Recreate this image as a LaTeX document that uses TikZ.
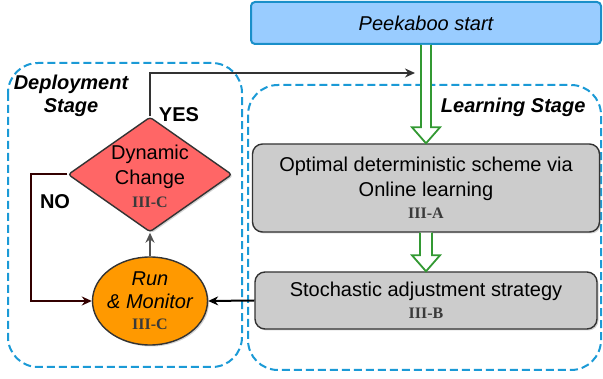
\documentclass[tikz,border=0pt]{standalone}
\usepackage{fontspec}
\setmainfont{Liberation Sans}
\newfontfamily\secfont{Liberation Serif}
\usetikzlibrary{arrows.meta,shapes.geometric,shadows,calc}
\definecolor{stageblue}{HTML}{1B9AD6}
\definecolor{startfill}{HTML}{99CCFF}
\definecolor{startdraw}{HTML}{1A8FC9}
\definecolor{diafill}{HTML}{FF6666}
\definecolor{ellfill}{HTML}{FF9900}
\definecolor{boxfill}{HTML}{CCCCCC}
\definecolor{darkline}{HTML}{333333}
\definecolor{noline}{HTML}{330000}
\definecolor{arrgreen}{HTML}{339933}
\definecolor{secgray}{HTML}{3A3A3A}
\begin{document}
\begin{tikzpicture}[x=1pt,y=-1pt,
  every node/.style={font=\fontsize{20}{25}\selectfont},
  stagebox/.style={draw=stageblue,line width=2pt,dash pattern=on 8pt off 4pt,rounded corners=30pt},
  stagelabel/.style={font=\fontsize{20}{23}\selectfont\bfseries\itshape,align=center},
  graybox/.style={draw=darkline,fill=boxfill,line width=1.4pt,rounded corners=10pt,align=center,
    drop shadow={shadow xshift=1.5pt,shadow yshift=-1.5pt,opacity=0.35}},
  hollow/.style={draw=arrgreen,fill=white,line width=1.8pt,line join=miter},
  conn/.style={line width=2pt,-{Stealth[length=10pt,width=9pt]}},
  yn/.style={font=\fontsize{20}{24}\selectfont\bfseries}]
\useasboundingbox (0,0) rectangle (603,379);
% stage frames
\draw[stagebox] (8,63) rectangle (242,367);
\node[stagelabel] (deplab) at (71,96) {Deployment\\Stage};
\draw[stagebox] (248,85) rectangle (601,370);
\node[stagelabel,anchor=east] (learnlab) at (589,107) {Learning Stage};
% start box
\node[draw=startdraw,fill=startfill,line width=2pt,rounded corners=4pt,minimum width=350pt,minimum height=42pt,font=\fontsize{20}{24}\selectfont\itshape] (start) at (426,23) {Peekaboo start};
% learning boxes
\node[graybox,minimum width=347pt,minimum height=88pt] (box1) at (426,188)
  {Optimal deterministic scheme via\\Online learning\\[-3pt]{\fontsize{16}{18}\secfont\bfseries\color{secgray}III-A}};
\node[graybox,minimum width=342pt,minimum height=57pt] (box2) at (426,300.5)
  {Stochastic adjustment strategy\\[-3pt]{\fontsize{16}{18}\secfont\bfseries\color{secgray}III-B}};
% hollow green arrows
\draw[hollow] ($(start.south)+(-5,0)$) -- ($(box1.north)+(-5,-16)$) -- ($(box1.north)+(-14,-16)$) -- (box1.north)
  -- ($(box1.north)+(14,-16)$) -- ($(box1.north)+(5,-16)$) -- ($(start.south)+(5,0)$);
\draw[hollow] ($(box1.south)+(-6,0)$) -- ($(box2.north)+(-6,-16)$) -- ($(box2.north)+(-14,-16)$) -- (box2.north)
  -- ($(box2.north)+(14,-16)$) -- ($(box2.north)+(6,-16)$) -- ($(box1.south)+(6,0)$);
% deployment shapes
\node[diamond,draw=darkline,fill=diafill,line width=1.4pt,rounded corners=3pt,inner sep=0pt,
  minimum width=164pt,minimum height=115pt,
  drop shadow={shadow xshift=1.5pt,shadow yshift=-1.5pt,opacity=0.35}] (dia) at (150,174.5) {};
\node[align=center] (diatext) at (150,176) {Dynamic\\Change\\[-2pt]{\fontsize{16}{18}\secfont\bfseries\color{secgray}III-C}};
\node[ellipse,draw=darkline,fill=ellfill,line width=1.4pt,inner sep=0pt,
  minimum width=115pt,minimum height=88pt,
  drop shadow={shadow xshift=1.5pt,shadow yshift=-1.5pt,opacity=0.35}] (ell) at (150,301) {};
\node[align=center,font=\fontsize{20}{23}\selectfont\itshape] (elltext) at (150,301) {Run\\\& Monitor\\[-2pt]{\upshape\fontsize{16}{18}\secfont\bfseries\color{secgray}III-C}};
% connectors
\coordinate (yesend) at (415,73);
\draw[conn,draw=darkline] (dia.north) |- (yesend);
\node[yn] (yes) at (179,115) {YES};
\draw[conn,draw=noline] (dia.west) -- ++(-36,0) |- (ell.west);
\node[yn] (no) at (55,202) {NO};
\draw[conn,draw=darkline!85] (ell.north) -- (dia.south);
\draw[conn,draw=black] (box2.west) -- (ell.east);
\end{tikzpicture}
\end{document}
